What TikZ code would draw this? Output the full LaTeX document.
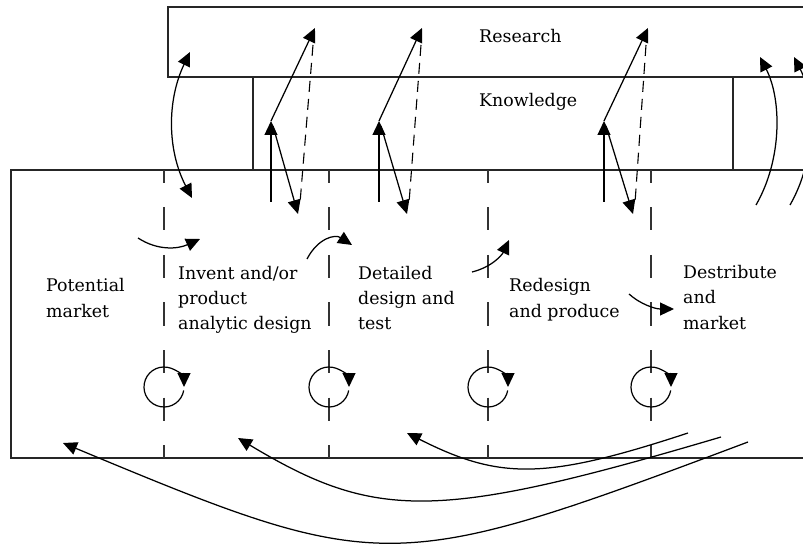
\documentclass[tikz,border=0pt]{standalone}
\usepackage{fontspec}
\setmainfont{DejaVu Serif}
\usetikzlibrary{arrows.meta}

\tikzset{
  frame/.style={line width=1.3pt, draw=black!85},
  phase/.style={line width=1.1pt, draw=black!80, dash pattern=on 23pt off 24.5pt, dash phase=10pt},
  arr/.style={line width=1.25pt, draw=black, -{Triangle[length=14pt,width=13pt]}},
  darr/.style={line width=1.25pt, draw=black, {Triangle[length=14pt,width=13pt]}-{Triangle[length=14pt,width=13pt]}},
  feed/.style={line width=1.1pt, draw=black, dash pattern=on 11pt off 7pt},
  loopline/.style={line width=1.2pt, draw=black, -{Triangle[length=14pt,width=13pt]}},
  lbl/.style={font=\fontsize{17.4}{25.5}\selectfont, align=left, inner sep=0pt, anchor=base west},
}

\begin{document}
\begin{tikzpicture}[x=1pt,y=-1pt]
\useasboundingbox (0,0) rectangle (803,545);

% Research band, Knowledge band and the process frame (open to the right)
\draw[frame] (803,7) -- (168,7) -- (168,77) -- (803,77);
\draw[frame] (253,77) -- (253,170);
\draw[frame] (733,77) -- (733,170);
\draw[frame] (803,170) -- (11,170) -- (11,458) -- (803,458);

% phase boundaries
\foreach \x in {164,329,488,651}
  \draw[phase] (\x,170) -- (\x,458);

% labels (anchored on the baseline of their last line)
\node[lbl] (research) at (479,43) {Research};
\node[lbl] (knowledge) at (479,107) {Knowledge};
\node[lbl] (potential) at (46,317) {Potential\\market};
\node[lbl] (invent) at (178,330) {Invent and/or\\product\\analytic design};
\node[lbl] (detailed) at (358,330) {Detailed\\design and\\test};
\node[lbl] (redesign) at (509,317) {Redesign\\and produce};
\node[lbl] (destribute) at (683,329) {Destribute\\and\\market};

% market <-> research link
\coordinate (mk) at (192,198);
\coordinate (rs) at (190,52);
\draw[darr] (mk) .. controls (167,150) and (167,100) .. (rs);

% knowledge exchange at three stages
\foreach \xa/\xt/\xd/\xs/\xe in {271/315/298/313/300, 379/422/407/421/409, 604/648/633/646/635}{
  \coordinate (b) at (\xa,202);
  \coordinate (m) at (\xa,121);
  \coordinate (t) at (\xt,28);
  \coordinate (s) at (\xa+2,126);
  \coordinate (d) at (\xd,214);
  \coordinate (fs) at (\xs,45);
  \coordinate (fe) at (\xe,203);
  \draw[arr] (b) -- (m);
  \draw[arr] (m) -- (t);
  \draw[arr] (s) -- (d);
  \draw[feed] (fs) -- (fe);
}

% links from the last stage up to research
\coordinate (r1s) at (756,205);
\coordinate (r1e) at (760,57);
\coordinate (r2s) at (790,205);
\coordinate (r2e) at (794,57);
\draw[arr] (r1s) .. controls (782,160) and (782,100) .. (r1e);
\draw[arr] (r2s) .. controls (816,160) and (816,100) .. (r2e);

% forward flow between phases
\draw[arr] (138,238) .. controls (158,251) and (178,249) .. (200,239);
\draw[arr] (307,259) .. controls (318,238) and (335,234) .. (352,245);
\draw[arr] (472,272) .. controls (492,267) and (502,255) .. (509,240);
\draw[arr] (629,294) .. controls (640,304) and (655,309) .. (674,309);

% iteration loops on each boundary
\foreach \x [count=\i] in {164,329,488,651}{
  \coordinate (c\i) at (\x,387);
  \draw[loopline] (c\i) ++(-10:20pt) arc[start angle=-10, end angle=-360, radius=20pt];
}

% feedback from the market back to earlier phases
\coordinate (f1s) at (688,433);
\coordinate (f1e) at (407,433);
\coordinate (f2s) at (721,437);
\coordinate (f2e) at (238,438);
\coordinate (f3s) at (748,442);
\coordinate (f3e) at (63,443);
\draw[arr] (f1s) .. controls (545,480) and (500,480) .. (f1e);
\draw[arr] (f2s) .. controls (437,521) and (376,521) .. (f2e);
\draw[arr] (f3s) .. controls (391,576) and (382,576) .. (f3e);
\end{tikzpicture}
\end{document}
